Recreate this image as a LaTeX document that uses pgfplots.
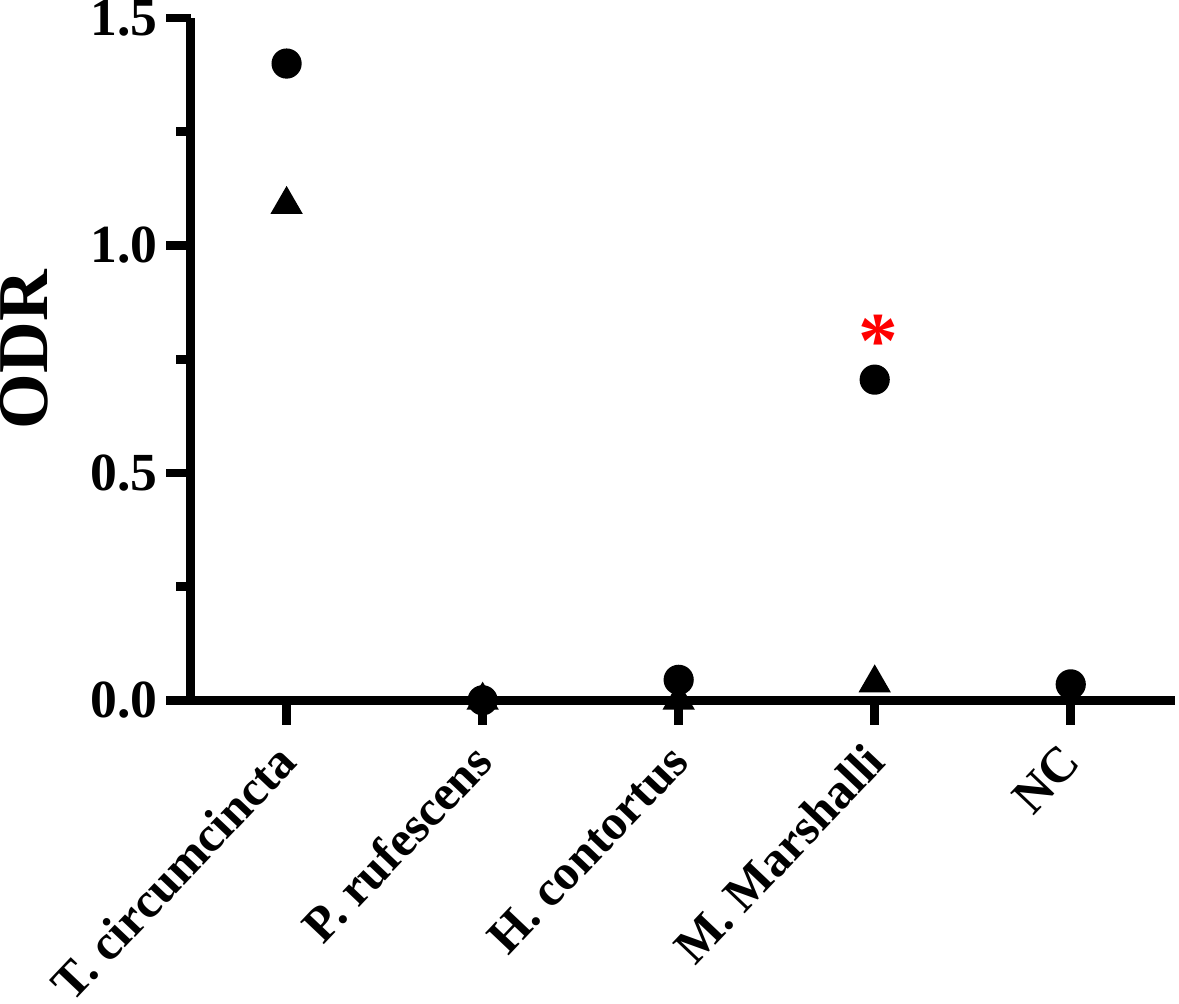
\documentclass[border=0pt]{standalone}
\usepackage{fontspec}
\setmainfont{Liberation Serif}
\usepackage{pgfplots}
\pgfplotsset{compat=1.18}
\begin{document}
\begin{tikzpicture}
\begin{axis}[
  scale only axis, width=247.75pt, height=171.75pt,
  xmin=-0.49, xmax=4.53, ymin=0, ymax=1.5,
  axis x line*=bottom, axis y line*=left,
  axis line style={line width=2.2pt, -},
  xtick={0,...,4},
  xticklabels={T. circumcincta, P. rufescens, H. contortus, M. Marshalli, NC},
  ytick={0,0.5,1,1.5},
  minor ytick={0.25,0.75,1.25},
  tick style={line width=2.2pt, black},
  major tick length=6.1pt, minor tick length=3.6pt,
  tick align=outside,
  yticklabel style={font=\fontsize{13.5}{13.5}\selectfont\bfseries, inner xsep=2pt, inner ysep=0pt,
    /pgf/number format/.cd, fixed, fixed zerofill, precision=1, assume math mode=true},
  xticklabel style={font=\fontsize{12.5}{12.5}\selectfont\bfseries, rotate=46.5, anchor=east,
    inner sep=0pt, xshift=-5pt, yshift=-5pt},
  ylabel={ODR}, ylabel style={font=\fontsize{18}{18}\selectfont\bfseries, inner sep=0pt,
    xshift=2.4pt, yshift=8.5pt},
  clip=false,
]
% triangles (second series)
\addplot[only marks, mark=triangle*, mark size=4.3pt, black]
  coordinates {(0,1.09) (1,0.0) (2,0.0) (3,0.038)};
% circles (first series)
\addplot[only marks, mark=*, mark size=3.6pt, black]
  coordinates {(0,1.40) (1,0.0) (2,0.045) (3,0.705) (4,0.035)};
% significance marker
\addplot[only marks, mark=none, red,
  nodes near coords={\fontsize{20}{20}\selectfont\bfseries *},
  every node near coord/.append style={anchor=center, red, xshift=1pt}]
  coordinates {(3,0.79)};
\end{axis}
\end{tikzpicture}
\end{document}
